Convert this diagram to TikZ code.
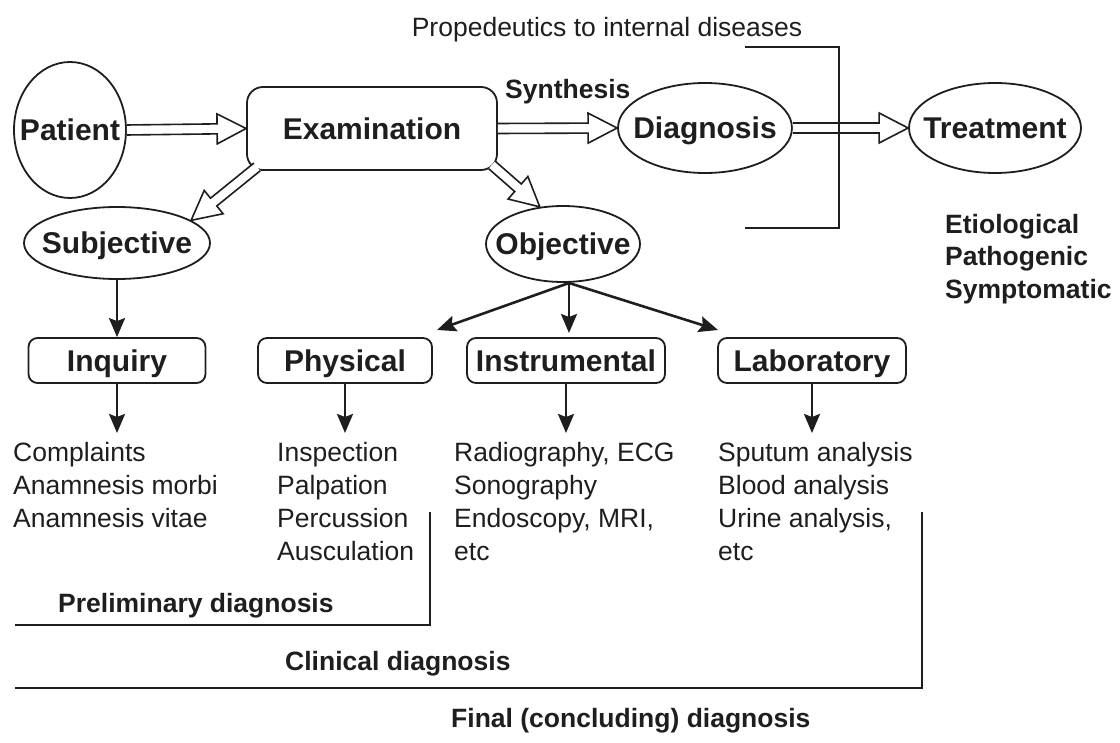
\documentclass[tikz,border=0pt]{standalone}
\usepackage{fontspec}
\setmainfont{Liberation Sans}
\usetikzlibrary{arrows.meta,calc,shapes.geometric}
\definecolor{ink}{RGB}{30,30,30}
\newcommand{\harrow}[2]{%
  \coordinate (hA) at (#1); \coordinate (hB) at (#2);
  \coordinate (hH) at ($(hB)!29pt!(hA)$);
  \draw[hollow] ($(hA)!5pt!90:(hB)$) -- ($(hH)!5pt!-90:(hA)$) -- ($(hH)!15pt!-90:(hA)$) -- (hB) -- ($(hH)!15pt!90:(hA)$) -- ($(hH)!5pt!90:(hA)$) -- ($(hA)!5pt!-90:(hB)$);
}
\begin{document}
\begin{tikzpicture}[x=1pt,y=-1pt,
  every node/.style={text=ink},
  bdr/.style={draw=ink, line width=1.8pt},
  oval/.style={ellipse, bdr, inner sep=0pt},
  big/.style={font=\fontsize{30}{32}\selectfont\bfseries, inner sep=0pt, text height=21.5pt, text depth=0pt},
  sub/.style={font=\fontsize{26.5}{30}\selectfont\bfseries, inner sep=0pt},
  lst/.style={font=\fontsize{26.5}{30}\selectfont, inner sep=0pt, anchor=base west},
  box/.style={rectangle, rounded corners=9pt, bdr, minimum height=45pt, inner sep=0pt, text height=21.5pt, text depth=0pt, font=\fontsize{30}{32}\selectfont\bfseries},
  hollow/.style={draw=ink, line width=1.6pt, fill=white, line join=miter},
  blk/.style={draw=ink, line width=2.6pt, -{Stealth[length=19pt,width=16pt,inset=3pt]}},
  brk/.style={draw=ink, line width=2.6pt}]
\useasboundingbox (0,0) rectangle (1120,743);

% top row
\node[oval, minimum width=112pt, minimum height=136pt] (pat) at (70,130) {};
\node[big] (patt) at (pat.center) {Patient};
\node[box, rounded corners=16pt, minimum width=250pt, minimum height=83pt] (exam) at (372,128.5) {Examination};
\node[oval, minimum width=174pt, minimum height=90pt] (diag) at (705,128) {};
\node[big] (diagt) at (diag.center) {Diagnosis};
\node[oval, minimum width=172pt, minimum height=90pt] (treat) at (995,128) {};
\node[big] (treatt) at (treat.center) {Treatment};

\node[sub, anchor=base west] (syn) at (505,99) {Synthesis};
\node[lst, anchor=base] (prop) at (607,37) {Propedeutics to internal diseases};

\node[sub, anchor=base west] (et1) at (945,234) {Etiological};
\node[sub, anchor=base west] (et2) at (945,266) {Pathogenic};
\node[sub, anchor=base west] (et3) at (945,299) {Symptomatic};

% second row
\node[oval, minimum width=186pt, minimum height=72pt] (subj) at (117,243) {};
\node[big] (subjt) at (subj.center) {Subjective};
\node[oval, minimum width=154pt, minimum height=76pt] (obj) at (563,244) {};
\node[big] (objt) at (obj.center) {Objective};

% hollow arrows
\harrow{pat.east}{exam.west}
\harrow{exam.east}{diag.west}
\harrow{diag.east}{treat.west}
\harrow{$(exam.south west)+(11,-4)$}{subj.17}
\harrow{$(exam.south east)+(-6,-6)$}{obj.122}

\draw[brk] (745,47) -- (839,47) -- (839,228) -- (745,228);

% boxes
\node[box, minimum width=177pt] (inq) at (117,360.5) {Inquiry};
\node[box, minimum width=174pt] (phy) at (345,360.5) {Physical};
\node[box, minimum width=198pt] (ins) at (566,360.5) {Instrumental};
\node[box, minimum width=188pt] (lab) at (812,360.5) {Laboratory};

\coordinate (ojun) at (569,283);
\coordinate (tphy) at (437,330);
\coordinate (tins) at (569,333);
\coordinate (tlab) at (718,330);
\draw[blk] (subj.south) -- (inq.north);
\draw[blk] (ojun) -- (tphy);
\draw[blk] (ojun) -- (tins);
\draw[blk] (ojun) -- (tlab);

\coordinate (dinq) at (117,433);
\coordinate (dphy) at (345,433);
\coordinate (dins) at (566,433);
\coordinate (dlab) at (812,433);
\draw[blk] (inq.south) -- (dinq);
\draw[blk] (phy.south) -- (dphy);
\draw[blk] (ins.south) -- (dins);
\draw[blk] (lab.south) -- (dlab);

% lists
\node[lst] (a1) at (13,461) {Complaints};
\node[lst] (a2) at (13,494) {Anamnesis morbi};
\node[lst] (a3) at (13,527) {Anamnesis vitae};
\node[lst] (b1) at (277,461) {Inspection};
\node[lst] (b2) at (277,494) {Palpation};
\node[lst] (b3) at (277,527) {Percussion};
\node[lst] (b4) at (277,560) {Ausculation};
\node[lst] (c1) at (454,461) {Radiography, ECG};
\node[lst] (c2) at (454,494) {Sonography};
\node[lst] (c3) at (454,527) {Endoscopy, MRI,};
\node[lst] (c4) at (454,560) {etc};
\node[lst] (d1) at (718,461) {Sputum analysis};
\node[lst] (d2) at (718,494) {Blood analysis};
\node[lst] (d3) at (718,527) {Urine analysis,};
\node[lst] (d4) at (718,560) {etc};

% diagnosis brackets
\draw[brk] (430,512) -- (430,625) -- (15,625);
\node[sub, anchor=base west] (pre) at (58,612) {Preliminary diagnosis};
\draw[brk] (922,512) -- (922,688) -- (15,688);
\node[sub, anchor=base west] (cli) at (285,670) {Clinical diagnosis};
\node[sub, anchor=base west] (fin) at (451,727) {Final (concluding) diagnosis};
\end{tikzpicture}
\end{document}
